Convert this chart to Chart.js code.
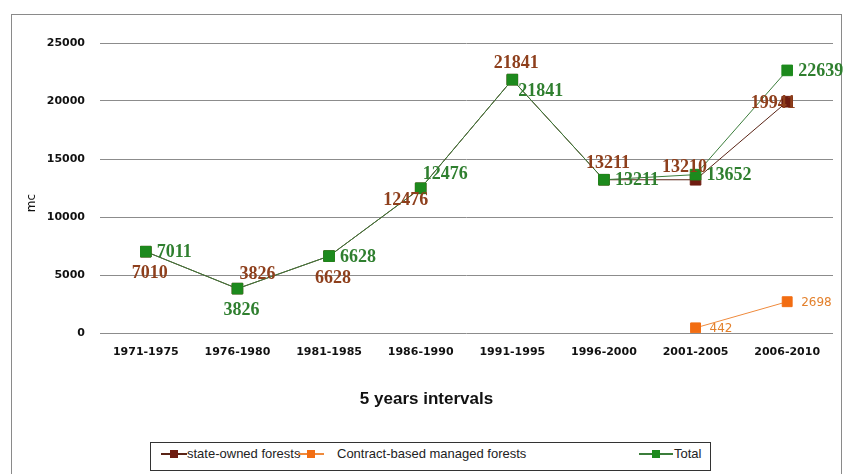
<!DOCTYPE html>
<html>
<head>
<meta charset="utf-8">
<script src="https://cdn.jsdelivr.net/npm/chart.js@4"></script>
<style>
  html, body { margin: 0; padding: 0; background: #ffffff; }
  body { width: 844px; height: 474px; position: relative; overflow: hidden; font-family: "Liberation Sans", Arial, sans-serif; }
  #frame { position: absolute; left: 11px; top: 14px; width: 829px; height: 470px; border: 1px solid #8a8a8a; border-bottom: none; }
  #chart { position: absolute; left: 0; top: 0; }
  #legend { position: absolute; left: 150px; top: 442px; width: 561px; height: 29px; border: 1px solid #333333; box-sizing: border-box; }
  .lg-line { position: absolute; height: 2px; top: 10px; }
  .lg-mark { position: absolute; width: 8px; height: 8px; top: 7px; }
  .lg-text { position: absolute; top: 3px; font-size: 13px; color: #222; white-space: nowrap; line-height: 16px; }
</style>
</head>
<body>
<div id="frame"></div>
<canvas id="chart" width="844" height="430"></canvas>
<div id="legend"></div>
<script>
// Harvested timber volume by five-year interval
const categories = ['1971-1975', '1976-1980', '1981-1985', '1986-1990', '1991-1995', '1996-2000', '2001-2005', '2006-2010'];
const stateOwned = [7010, 3826, 6628, 12476, 21841, 13211, 13210, 19941];
const contractBased = [null, null, null, null, null, null, 442, 2698];
const total = [7011, 3826, 6628, 12476, 21841, 13211, 13652, 22639];
const yTicks = [0, 5000, 10000, 15000, 20000, 25000];
const seriesNames = ['state-owned forests', 'Contract-based managed forests', 'Total'];

// Where each value label sits relative to its point
const stateLabelSides = ['below', 'upRight', 'below', 'downLeft', 'above', 'above', 'upLeft', 'left'];
const contractLabelSides = [null, null, null, null, null, null, 'farRight', 'farRight'];
const totalLabelSides = ['right', 'below', 'right', 'upRight', 'downRight', 'right', 'right', 'right'];

const SIDES = {
  right:     { dx: 11,  dy: 1,   align: 'left' },
  farRight:  { dx: 14,  dy: 1,   align: 'left' },
  left:      { dx: -14, dy: 2,   align: 'center' },
  below:     { dx: 4,   dy: 22,  align: 'center' },
  above:     { dx: 4,   dy: -16, align: 'center' },
  upRight:   { dx: 2,   dy: -14, align: 'left' },
  upLeft:    { dx: -11, dy: -12, align: 'center' },
  downLeft:  { dx: -15, dy: 12,  align: 'center' },
  downRight: { dx: 6,   dy: 12,  align: 'left' }
};

const COLORS = {
  state: '#6e1c10', stateLine: '#5a2416', stateText: '#8e3f1c',
  contract: '#f26d12', contractLine: '#ef8a3c', contractText: '#e3802c',
  total: '#1d8a1d', totalLine: '#3b7d3b', totalText: '#2f7f2f'
};

const valueLabels = {
  id: 'valueLabels',
  afterDatasetsDraw(chart) {
    const ctx = chart.ctx;
    chart.data.datasets.forEach((ds, i) => {
      const meta = chart.getDatasetMeta(i);
      const lab = ds.valueLabel;
      if (!lab || meta.hidden) return;
      meta.data.forEach((pt, j) => {
        const v = ds.data[j];
        const side = SIDES[lab.sides[j]];
        if (v == null || !side) return;
        ctx.save();
        ctx.font = lab.font;
        ctx.fillStyle = lab.color;
        ctx.textAlign = side.align;
        ctx.textBaseline = 'middle';
        ctx.fillText(String(v), pt.x + side.dx, pt.y + side.dy);
        ctx.restore();
      });
    });
  }
};

// Vertical unit caption, set a little below the axis middle
const unitCaption = {
  id: 'unitCaption',
  afterDraw(chart) {
    const ctx = chart.ctx;
    const y = chart.scales.y;
    ctx.save();
    ctx.translate(32, (y.top + y.bottom) / 2 + 15);
    ctx.rotate(-Math.PI / 2);
    ctx.font = '12px "DejaVu Sans", sans-serif';
    ctx.fillStyle = '#111';
    ctx.textAlign = 'center';
    ctx.textBaseline = 'middle';
    ctx.fillText('mc', 0, 0);
    ctx.restore();
  }
};

const bigLabelFont = 'bold 18px "Liberation Serif", "DejaVu Serif", serif';
const tickFont = { family: '"DejaVu Sans", sans-serif', size: 11, weight: 'bold' };

new Chart(document.getElementById('chart'), {
  type: 'line',
  data: {
    labels: categories,
    datasets: [
      {
        label: seriesNames[0], data: stateOwned, order: 1,
        borderColor: COLORS.stateLine, borderWidth: 1,
        pointStyle: 'rect', pointRadius: 7.5, pointBackgroundColor: COLORS.state, pointBorderColor: COLORS.state,
        valueLabel: { sides: stateLabelSides, color: COLORS.stateText, font: bigLabelFont }
      },
      {
        label: seriesNames[1], data: contractBased, order: 1, spanGaps: false,
        borderColor: COLORS.contractLine, borderWidth: 1,
        pointStyle: 'rect', pointRadius: 7, pointBackgroundColor: COLORS.contract, pointBorderColor: COLORS.contract,
        valueLabel: { sides: contractLabelSides, color: COLORS.contractText, font: '12px "DejaVu Sans", sans-serif' }
      },
      {
        label: seriesNames[2], data: total, order: 0,
        borderColor: COLORS.totalLine, borderWidth: 1,
        pointStyle: 'rect', pointRadius: 7.5, pointBackgroundColor: COLORS.total, pointBorderColor: COLORS.total,
        valueLabel: { sides: totalLabelSides, color: COLORS.totalText, font: bigLabelFont }
      }
    ]
  },
  options: {
    responsive: false,
    animation: false,
    layout: { padding: { top: 43, left: 20, right: 11, bottom: 0 } },
    plugins: {
      legend: { display: false },
      tooltip: { enabled: false },
      title: {
        display: true, position: 'bottom', text: '5 years intervals', color: '#111',
        font: { family: '"Liberation Sans", Arial, sans-serif', size: 17, weight: 'bold' },
        padding: { top: 1, bottom: 20 }
      }
    },
    scales: {
      x: {
        offset: true,
        grid: { display: false, drawTicks: false },
        border: { display: false },
        ticks: { color: '#111', padding: 13, font: tickFont },
        afterFit(scale) { scale.height = 55.6; }
      },
      y: {
        min: 0, max: 25000,
        afterBuildTicks(scale) { scale.ticks = yTicks.map(v => ({ value: v })); },
        grid: { color: '#8c8c8c', lineWidth: 1, drawTicks: false },
        border: { display: false },
        ticks: { color: '#111', padding: 15, font: tickFont, callback: v => String(v) },
        afterFit(scale) { scale.width = 80; }
      }
    }
  },
  plugins: [valueLabels, unitCaption]
});

// Legend entries: line with a square marker, then the series name
const legendItems = [
  { name: seriesNames[0], color: COLORS.state, line: COLORS.stateLine, x: 10, w: 26, tx: 36 },
  { name: seriesNames[1], color: COLORS.contract, line: COLORS.contractLine, x: 147, w: 26, tx: 186 },
  { name: seriesNames[2], color: COLORS.total, line: COLORS.totalLine, x: 488, w: 34, tx: 523 }
];
const legend = document.getElementById('legend');
legendItems.forEach(it => {
  const line = document.createElement('div');
  line.className = 'lg-line';
  line.style.left = it.x + 'px'; line.style.width = it.w + 'px'; line.style.background = it.line;
  const mark = document.createElement('div');
  mark.className = 'lg-mark';
  mark.style.left = (it.x + it.w / 2 - 4) + 'px'; mark.style.background = it.color;
  const text = document.createElement('div');
  text.className = 'lg-text';
  text.style.left = it.tx + 'px'; text.textContent = it.name;
  legend.appendChild(line); legend.appendChild(mark); legend.appendChild(text);
});
</script>
</body>
</html>
